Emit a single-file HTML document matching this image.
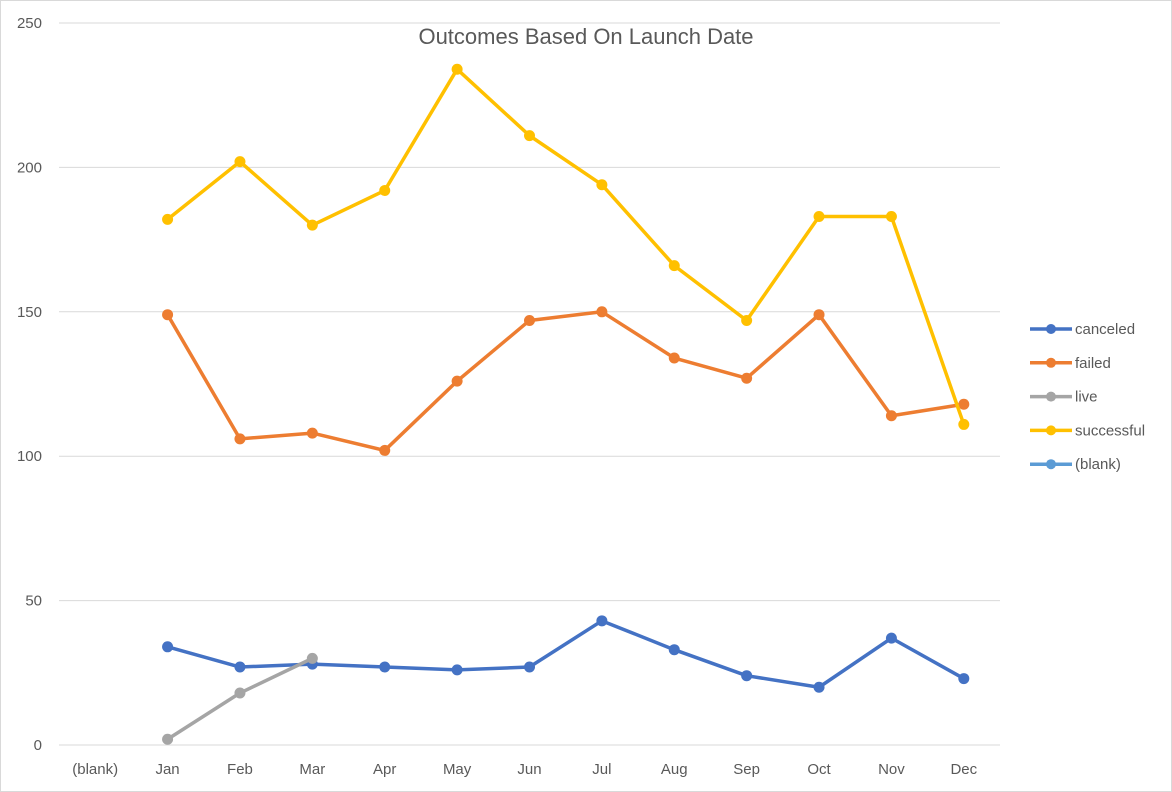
<!DOCTYPE html>
<html><head><meta charset="utf-8">
<style>
html,body{margin:0;padding:0;background:#fff;}
svg{display:block;font-family:"Liberation Sans",Arial,sans-serif;}
</style></head>
<body>
<svg id="chart" width="1172" height="792" viewBox="0 0 1172 792">
<rect x="0.5" y="0.5" width="1171" height="791" fill="#fff" stroke="#d9d9d9"/>
<text x="586" y="44" text-anchor="middle" font-size="22" fill="#595959">Outcomes Based On Launch Date</text>
<g id="grid"></g><g id="series"></g><g id="legend"></g>
</svg>
<script>
const categories=["(blank)","Jan","Feb","Mar","Apr","May","Jun","Jul","Aug","Sep","Oct","Nov","Dec"];
const yTicks=[0,50,100,150,200,250];
const canceled=[null,34,27,28,27,26,27,43,33,24,20,37,23];
const failed=[null,149,106,108,102,126,147,150,134,127,149,114,118];
const live=[null,2,18,30,null,null,null,null,null,null,null,null,null];
const successful=[null,182,202,180,192,234,211,194,166,147,183,183,111];
const blank=[null,null,null,null,null,null,null,null,null,null,null,null,null];
const seriesNames=["canceled","failed","live","successful","(blank)"];
const colors=["#4472c4","#ed7d31","#a5a5a5","#ffc000","#5b9bd5"];
const seriesData=[canceled,failed,live,successful,blank];

const NS="http://www.w3.org/2000/svg";
const plotLeft=59,plotRight=1000,plotTop=23,plotBottom=745,yMax=250;
const step=(plotRight-plotLeft)/categories.length;
const xs=i=>plotLeft+step*(i+0.5);
const ys=v=>plotBottom-(v/yMax)*(plotBottom-plotTop);
function mk(tag,attrs,parent){const e=document.createElementNS(NS,tag);for(const k in attrs)e.setAttribute(k,attrs[k]);parent.appendChild(e);return e;}
const grid=document.getElementById('grid');
yTicks.forEach(t=>{
  const l=mk('line',{x1:plotLeft,x2:plotRight,y1:ys(t),y2:ys(t),stroke:'#d9d9d9','stroke-width':1},grid);
  
  
  const tx=mk('text',{x:42,y:ys(t)+5,'text-anchor':'end','font-size':15,fill:'#595959'},grid);
  tx.textContent=t;
  
  
});
categories.forEach((c,i)=>{
  const tx=mk('text',{x:xs(i),y:774,'text-anchor':'middle','font-size':15,fill:'#595959'},grid);
  tx.textContent=c;
  
  
});
const sg=document.getElementById('series');
seriesData.forEach((d,s)=>{
  const g=mk('g',{},sg);
  
  
  let seg=[];
  const flush=()=>{if(seg.length>1){const p=mk('polyline',{points:seg.join(' '),fill:'none',stroke:colors[s],'stroke-width':3.5,'stroke-linejoin':'round'},g);
    
    }seg=[];};
  d.forEach((v,i)=>{if(v==null){flush();return;}seg.push(xs(i)+','+ys(v));});
  flush();
  d.forEach((v,i)=>{if(v==null)return;
    const c=mk('circle',{cx:xs(i),cy:ys(v),r:5.5,fill:colors[s]},g);
    
    });
});
const lg=document.getElementById('legend');
seriesNames.forEach((n,i)=>{
  const y=329+i*33.8;
  const g=mk('g',{},lg);
  
  
  mk('line',{x1:1030,x2:1072,y1:y,y2:y,stroke:colors[i],'stroke-width':3.5},g);
  mk('circle',{cx:1051,cy:y,r:5,fill:colors[i]},g);
  const t=mk('text',{x:1075,y:y+5,'font-size':15,fill:'#595959'},g);
  t.textContent=n;
});
</script>
</body></html>
